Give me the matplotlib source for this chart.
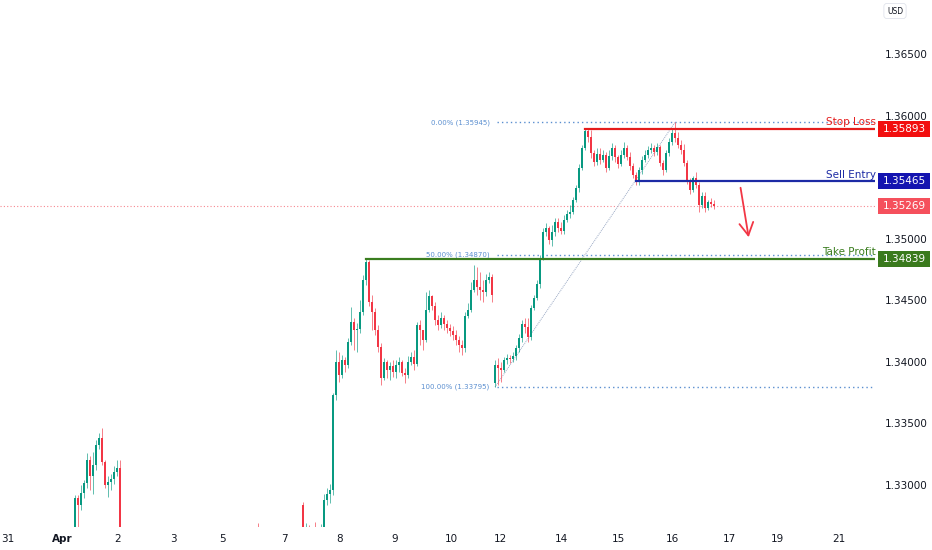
import matplotlib
matplotlib.use("Agg")
import matplotlib.pyplot as plt
import numpy as np
from matplotlib.patches import Rectangle
from matplotlib.transforms import blended_transform_factory

# ---- candle data (1h bars) ----
# segment A: Apr 1-2 (start bar index 25)
seg_a_start = 25
seg_a_open = 1.32554
seg_a_close = [1.32895, 1.32838, 1.32935, 1.33016, 1.33203, 1.33073, 1.33163, 1.33325,
               1.33382, 1.33187, 1.33000, 1.33025, 1.33049, 1.33106, 1.33138, 1.32391]
seg_a_high = [1.32919, 1.32919, 1.33000, 1.33041, 1.33260, 1.33236, 1.33268, 1.33366,
              1.33422, 1.33463, 1.33203, 1.33073, 1.33090, 1.33154, 1.33203, 1.33203]
seg_a_low = [1.32500, 1.32554, 1.32797, 1.32895, 1.32976, 1.32960, 1.32927, 1.33122,
             1.33292, 1.33163, 1.32976, 1.32903, 1.32960, 1.33008, 1.33073, 1.32310]

# segment B: a lone wick poking up on Apr 7
seg_b_start = 86
seg_b_open = 1.32300
seg_b_close = [1.32250]
seg_b_high = [1.32692]
seg_b_low = [1.32200]

# segment C: Apr 7 - Apr 11
seg_c_start = 101
seg_c_open = 1.32838
seg_c_close = [1.32391, 1.32424, 1.32407, 1.32448, 1.32432, 1.32472, 1.32489, 1.32878,
               1.32927, 1.32960, 1.33731, 1.33999, 1.33893, 1.34015, 1.33975, 1.34161,
               1.34324, 1.34259, 1.34267, 1.34405, 1.34665, 1.34811, 1.34486, 1.34405,
               1.34259, 1.34121, 1.33869, 1.33999, 1.33934, 1.33967, 1.33918, 1.33975,
               1.33999, 1.33910, 1.33893, 1.33999, 1.34040, 1.33983, 1.34300, 1.34259,
               1.34178, 1.34421, 1.34535, 1.34454, 1.34340, 1.34300, 1.34356, 1.34308,
               1.34275, 1.34251, 1.34218, 1.34178, 1.34137, 1.34113, 1.34373, 1.34421,
               1.34584, 1.34665, 1.34608, 1.34584, 1.34567, 1.34665, 1.34689, 1.34543]
seg_c_high = [1.32862, 1.32692, 1.32675, 1.32635, 1.32700, 1.32651, 1.32683, 1.32927,
              1.32976, 1.33008, 1.33747, 1.34096, 1.34080, 1.34056, 1.34040, 1.34194,
              1.34446, 1.34356, 1.34316, 1.34502, 1.34706, 1.34839, 1.34827, 1.34543,
              1.34438, 1.34300, 1.34153, 1.34032, 1.34015, 1.33999, 1.34015, 1.34015,
              1.34040, 1.34015, 1.33950, 1.34048, 1.34080, 1.34096, 1.34324, 1.34340,
              1.34259, 1.34567, 1.34584, 1.34543, 1.34486, 1.34381, 1.34405, 1.34381,
              1.34340, 1.34308, 1.34291, 1.34259, 1.34210, 1.34178, 1.34405, 1.34478,
              1.34649, 1.34787, 1.34770, 1.34730, 1.34665, 1.34714, 1.34730, 1.34714]
seg_c_low = [1.32269, 1.32269, 1.32310, 1.32351, 1.32342, 1.32375, 1.32391, 1.32456,
             1.32838, 1.32854, 1.32919, 1.33690, 1.33837, 1.33869, 1.33918, 1.33950,
             1.34137, 1.34096, 1.34080, 1.34235, 1.34381, 1.34624, 1.34454, 1.34259,
             1.34218, 1.34080, 1.33812, 1.33853, 1.33869, 1.33853, 1.33877, 1.33869,
             1.33918, 1.33885, 1.33829, 1.33869, 1.33975, 1.33934, 1.33967, 1.34137,
             1.34096, 1.34161, 1.34405, 1.34421, 1.34300, 1.34259, 1.34275, 1.34259,
             1.34235, 1.34210, 1.34178, 1.34137, 1.34080, 1.34056, 1.34080, 1.34356,
             1.34405, 1.34567, 1.34543, 1.34502, 1.34486, 1.34535, 1.34641, 1.34486]

# segment D: after the weekend gap, Apr 14 - Apr 16
seg_d_start = 165
seg_d_open = 1.33829
seg_d_close = [1.33975, 1.33950, 1.33934, 1.34015, 1.34032, 1.34023, 1.34048, 1.34113,
               1.34194, 1.34308, 1.34283, 1.34202, 1.34438, 1.34519, 1.34632, 1.34844,
               1.35055, 1.35087, 1.34990, 1.35055, 1.35136, 1.35087, 1.35063, 1.35152,
               1.35201, 1.35217, 1.35314, 1.35412, 1.35574, 1.35737, 1.35875, 1.35826,
               1.35696, 1.35623, 1.35688, 1.35639, 1.35680, 1.35574, 1.35672, 1.35737,
               1.35664, 1.35607, 1.35680, 1.35737, 1.35664, 1.35591, 1.35517, 1.35477,
               1.35558, 1.35639, 1.35680, 1.35720, 1.35737, 1.35704, 1.35745, 1.35615,
               1.35558, 1.35696, 1.35785, 1.35859, 1.35818, 1.35761, 1.35720, 1.35615,
               1.35477, 1.35396, 1.35493, 1.35436, 1.35274, 1.35347, 1.35250, 1.35298,
               1.35282, 1.35269]
seg_d_high = [1.34015, 1.34032, 1.33999, 1.34040, 1.34064, 1.34056, 1.34080, 1.34137,
              1.34226, 1.34340, 1.34356, 1.34356, 1.34462, 1.34543, 1.34665, 1.34868,
              1.35087, 1.35128, 1.35103, 1.35111, 1.35168, 1.35168, 1.35136, 1.35193,
              1.35233, 1.35274, 1.35339, 1.35436, 1.35607, 1.35761, 1.35899, 1.35899,
              1.35883, 1.35720, 1.35737, 1.35737, 1.35720, 1.35704, 1.35720, 1.35777,
              1.35761, 1.35680, 1.35720, 1.35785, 1.35761, 1.35704, 1.35615, 1.35542,
              1.35582, 1.35672, 1.35720, 1.35753, 1.35777, 1.35761, 1.35777, 1.35761,
              1.35639, 1.35720, 1.35818, 1.35899, 1.35945, 1.35867, 1.35802, 1.35769,
              1.35639, 1.35493, 1.35509, 1.35542, 1.35461, 1.35379, 1.35379, 1.35314,
              1.35331, 1.35314]
seg_d_low = [1.33795, 1.33812, 1.33837, 1.33918, 1.33983, 1.33991, 1.33999, 1.34015,
             1.34080, 1.34161, 1.34235, 1.34161, 1.34178, 1.34421, 1.34502, 1.34600,
             1.34827, 1.35022, 1.34957, 1.34941, 1.35022, 1.35055, 1.35038, 1.35038,
             1.35136, 1.35168, 1.35201, 1.35298, 1.35379, 1.35558, 1.35720, 1.35785,
             1.35656, 1.35591, 1.35599, 1.35607, 1.35623, 1.35542, 1.35558, 1.35639,
             1.35623, 1.35574, 1.35591, 1.35656, 1.35639, 1.35558, 1.35493, 1.35436,
             1.35436, 1.35526, 1.35623, 1.35656, 1.35696, 1.35672, 1.35680, 1.35591,
             1.35517, 1.35542, 1.35672, 1.35761, 1.35785, 1.35737, 1.35688, 1.35591,
             1.35444, 1.35363, 1.35379, 1.35412, 1.35217, 1.35250, 1.35217, 1.35233,
             1.35258, 1.35241]

# trade levels
stop_loss = 1.35893
sell_entry = 1.35465
take_profit = 1.34839
last_price = 1.35269
sl_from_bar, entry_from_bar, tp_from_bar = 195, 212, 122

# arrow (bar index, price)
arrow_start = (246.7, 1.35436)
arrow_end = (249.7, 1.34990)

# 1.35500 sits under the Sell Entry tag, so it is left out
price_ticks = [1.330, 1.335, 1.340, 1.345, 1.350, 1.360, 1.365]
day_labels = ["31", "Apr", "2", "3", "5", "7", "8", "9", "10", "12", "14", "15", "16", "17", "19", "21"]
day_label_bars = [2.7, 20.7, 39.3, 57.7, 74, 94.7, 113.3, 131.7, 150.3, 166.7, 187.3, 206, 224.3, 243, 259.3, 279.7]

GREEN = "#089981"
RED = "#f23645"


def build(start, first_open, closes, highs, lows):
    closes = np.array(closes)
    opens = np.concatenate([[first_open], closes[:-1]])
    x = start + np.arange(len(closes))
    return x, opens, closes, np.array(highs), np.array(lows)


segs = [build(seg_a_start, seg_a_open, seg_a_close, seg_a_high, seg_a_low),
        build(seg_b_start, seg_b_open, seg_b_close, seg_b_high, seg_b_low),
        build(seg_c_start, seg_c_open, seg_c_close, seg_c_high, seg_c_low),
        build(seg_d_start, seg_d_open, seg_d_close, seg_d_high, seg_d_low)]

x = np.concatenate([s[0] for s in segs])
o = np.concatenate([s[1] for s in segs])
c = np.concatenate([s[2] for s in segs])
h = np.concatenate([s[3] for s in segs])
l = np.concatenate([s[4] for s in segs])

fig = plt.figure(figsize=(9.32, 5.5), dpi=100)
ax = fig.add_axes([0, 23 / 550, 875 / 932, 527 / 550])
ax.set_xlim(0, 875 / 3)
ax.set_ylim(1.326588, 1.369385)
for s in ax.spines.values():
    s.set_visible(False)

cols = np.where(c >= o, GREEN, RED)
ax.vlines(x, l, h, colors=cols, linewidth=0.6, alpha=0.75, zorder=3)
bottoms = np.minimum(o, c)
heights = np.maximum(np.abs(c - o), 0.00003)
ax.bar(x, heights, bottom=bottoms, width=0.7, color=cols, linewidth=0, zorder=4)

# current price dotted line
ax.axhline(last_price, color=RED, lw=0.8, ls=(0, (1, 2)), alpha=0.6, zorder=1)

# fibonacci retracement
fib_lo_i = seg_d_start + int(np.argmin(seg_d_low))
fib_hi_i = seg_d_start + int(np.argmax(seg_d_high))
fib_lo = min(seg_d_low)
fib_hi = max(seg_d_high)
fib_col = "#5b8fd0"
xr = ax.get_xlim()[1]
for r in [0.0, 0.5, 1.0]:
    lev = fib_hi - r * (fib_hi - fib_lo)
    ax.plot([fib_lo_i + 0.7, xr], [lev, lev], color=fib_col, lw=1.0, ls=(0, (1, 2.2)), zorder=2)
    ax.text(fib_lo_i - 1.8, lev, f"{r * 100:.2f}% ({lev:.5f})", color=fib_col,
            fontsize=5, ha="right", va="center", zorder=5)
ax.plot([fib_lo_i, fib_hi_i], [fib_lo, fib_hi], color="#9aa9c4", lw=0.7, ls=(0, (1, 1)), zorder=2)

# trade levels
ax.plot([sl_from_bar, xr], [stop_loss, stop_loss], color="#e51c1c", lw=1.6, zorder=5)
ax.plot([entry_from_bar, xr], [sell_entry, sell_entry], color="#1c2aa5", lw=1.6, zorder=5)
ax.plot([tp_from_bar, xr], [take_profit, take_profit], color="#3a7d1f", lw=1.6, zorder=5)

lbl_x = 876 / 3
for val, txt, col in [(stop_loss, "Stop Loss", "#e51c1c"),
                      (sell_entry, "Sell Entry", "#1c2aa5"),
                      (take_profit, "Take Profit", "#3a7d1f")]:
    ax.text(lbl_x, val + 0.00012, txt, color=col, fontsize=7.5, fontweight="medium",
            ha="right", va="bottom", clip_on=False, zorder=6)

# red arrow
ax.annotate("", xy=arrow_end, xytext=arrow_start,
            arrowprops=dict(arrowstyle="->,head_length=0.9,head_width=0.5",
                            color=RED, lw=1.3), zorder=6)

# price scale on the right
ax.yaxis.tick_right()
ax.set_yticks(price_ticks)
ax.set_yticklabels([f"{p:.5f}" for p in price_ticks])
ax.tick_params(axis="y", length=0, pad=7, labelsize=7.5, labelcolor="#131722")

ax.set_xticks(day_label_bars)
ax.set_xticklabels(day_labels)
ax.tick_params(axis="x", length=0, pad=5, labelsize=7.5, labelcolor="#131722")
for t in ax.get_xticklabels():
    if t.get_text() == "Apr":
        t.set_fontweight("bold")

# price tags
trans = blended_transform_factory(fig.transFigure, ax.transData)
box_h = 0.0013
for val, col in [(stop_loss, "#f20f0f"), (sell_entry, "#1414b0"),
                 (last_price, "#f5505c"), (take_profit, "#3a7a1d")]:
    rect = Rectangle((878 / 932, val - box_h / 2), 52 / 932, box_h, transform=trans,
                     facecolor=col, edgecolor="none", clip_on=False, zorder=10)
    fig.add_artist(rect)
    fig.text(904 / 932, val, f"{val:.5f}", transform=trans, color="white",
             fontsize=7.5, ha="center", va="center", zorder=11)

fig.text(895 / 932, 1 - 11 / 550, "USD", fontsize=5.5, color="#131722", ha="center", va="center",
         bbox=dict(boxstyle="round,pad=0.4", fc="white", ec="#e0e3eb", lw=0.6))

fig.savefig("out.png", dpi=100)
